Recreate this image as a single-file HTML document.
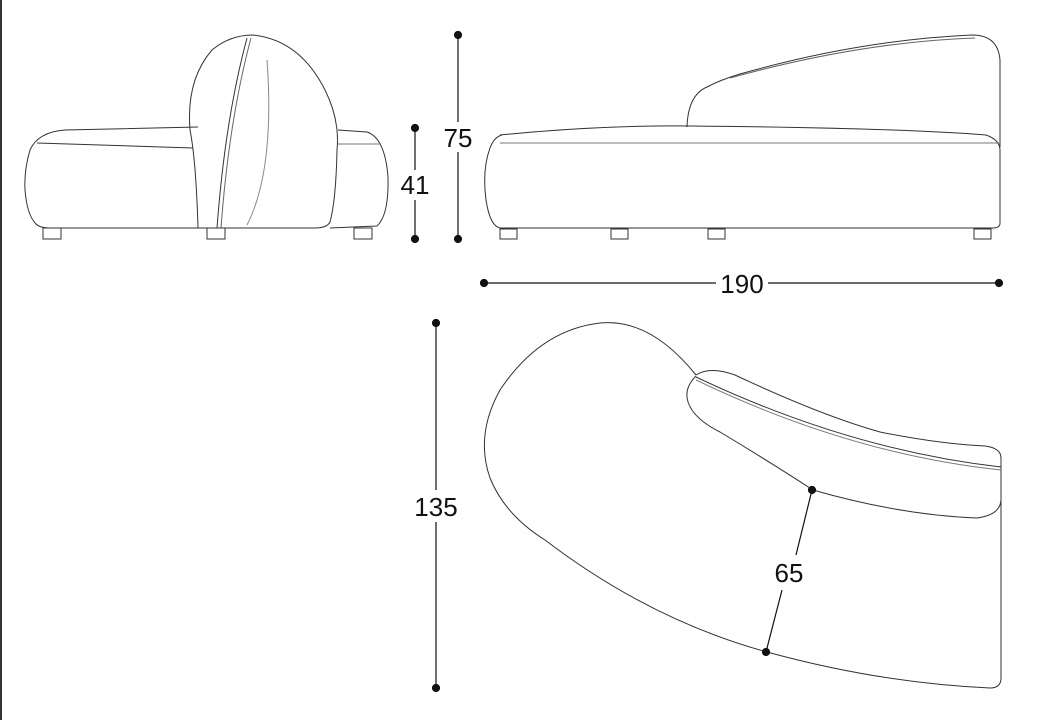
<!DOCTYPE html>
<html><head><meta charset="utf-8"><style>
html,body{margin:0;padding:0;background:#fff;width:1054px;height:720px;overflow:hidden}
svg{display:block}
text{font-family:"Liberation Sans",sans-serif;font-size:26px;fill:#111}
</style></head><body>
<svg width="1054" height="720" viewBox="0 0 1054 720" xmlns="http://www.w3.org/2000/svg">
<rect x="0" y="0" width="2" height="720" fill="#333"/>
<g fill="none" stroke="#333" stroke-width="1">
<!-- left side view -->
<path d="M198,127 L65,130 Q38,132 30,150 Q24,170 25,190 Q27,215 36,224 Q40,228 50,228 L198,228"/>
<path d="M37,143 L193,148"/>
<path d="M198,228 Q196,160 190,130 Q186,80 212,50 Q230,35 253,35 Q300,40 325,90 Q340,120 337,150 Q336,200 330,222 Q327,228 315,228 L198,228"/>
<path d="M247,38 Q225,120 217,228"/>
<path d="M251,38 Q229,120 221,228" stroke="#666"/>
<path d="M267,60 Q275,170 247,225" stroke="#888"/>
<path d="M338,130 L367,132 Q385,138 388,177 Q389,215 377,226 L330,228"/>
<path d="M338,144 L380,144" stroke="#777"/>
<rect x="43" y="228" width="18" height="11"/>
<rect x="207" y="228" width="18" height="11"/>
<rect x="354" y="228" width="18" height="11"/>
<!-- right side view -->
<path d="M687,127 Q688,95 707,87 Q720,80 740,74 Q860,40 972,35 Q998,35 1000,60 L1000,147"/>
<path d="M730,78 Q860,42 975,38" stroke="#666"/>
<path d="M500,135 Q600,125 690,126 Q900,128 986,135 Q1000,140 1000,150 L1000,223 Q1000,228 993,228 L500,228 Q490,226 486,200 Q482,170 490,148 Q494,137 502,135"/>
<path d="M500,143 L1000,143" stroke="#777"/>
<rect x="500" y="229" width="17" height="10"/>
<rect x="611" y="229" width="17" height="10"/>
<rect x="708" y="229" width="17" height="10"/>
<rect x="974" y="229" width="17" height="10"/>
<!-- plan view -->
<path d="M696,375 Q650,318 600,323 Q540,330 500,390 Q475,435 490,478 Q505,515 545,540 Q650,620 767,652 Q880,683 990,688 Q1001,688 1001,678 L1001,457"/>
<path d="M696,375 Q710,366 735,375 Q820,415 880,432 Q940,444 985,446 Q1001,448 1001,458"/>
<path d="M696,377 Q850,450 1001,467"/>
<path d="M696,380 Q850,454 1001,470" stroke="#777"/>
<path d="M696,376 Q680,392 692,410 Q700,422 720,432 Q770,462 813,490 Q900,515 977,518 Q1000,515 1001,500"/>
</g>
<g stroke="#111" stroke-width="1.2" fill="#111">
<line x1="415" y1="128" x2="415" y2="170"/><line x1="415" y1="200" x2="415" y2="239"/>
<circle cx="415" cy="128" r="3.5"/><circle cx="415" cy="239" r="3.5"/>
<line x1="458" y1="35" x2="458" y2="122"/><line x1="458" y1="152" x2="458" y2="239"/>
<circle cx="458" cy="35" r="3.5"/><circle cx="458" cy="239" r="3.5"/>
<line x1="484" y1="283" x2="716" y2="283"/><line x1="768" y1="283" x2="999" y2="283"/>
<circle cx="484" cy="283" r="3.5"/><circle cx="999" cy="283" r="3.5"/>
<line x1="436" y1="323" x2="436" y2="490"/><line x1="436" y1="522" x2="436" y2="688"/>
<circle cx="436" cy="323" r="3.5"/><circle cx="436" cy="688" r="3.5"/>
<line x1="812" y1="490" x2="796" y2="555"/><line x1="782" y1="590" x2="766" y2="652"/>
<circle cx="812" cy="490" r="3.5"/><circle cx="766" cy="652" r="3.5"/>
</g>
<text x="415" y="194" text-anchor="middle">41</text>
<text x="458" y="147" text-anchor="middle">75</text>
<text x="742" y="293" text-anchor="middle">190</text>
<text x="436" y="516" text-anchor="middle">135</text>
<text x="789" y="582" text-anchor="middle">65</text>
</svg>
</body></html>
